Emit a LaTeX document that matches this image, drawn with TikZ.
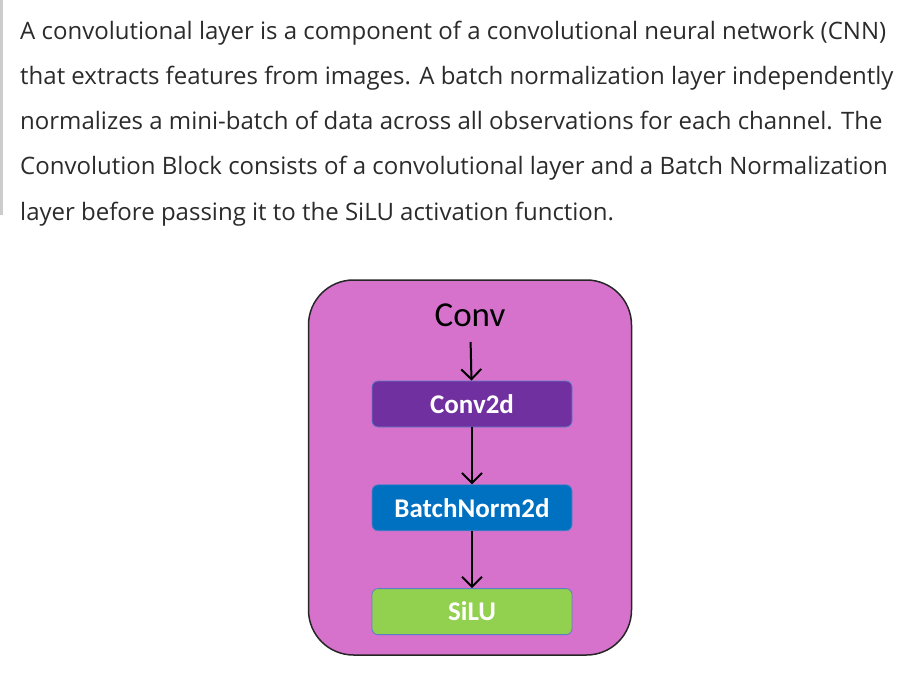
\documentclass[tikz,border=0pt]{standalone}
\usepackage{fontspec}
\setmainfont{Open Sans}
\newfontfamily\boxfont{Carlito}
\usepackage{xcolor}
\usepackage{tikz}
\usetikzlibrary{arrows.meta,positioning}

\definecolor{txtgray}{HTML}{2B2B2B}
\definecolor{blockpink}{HTML}{D672CC}
\definecolor{convpurple}{HTML}{7030A0}
\definecolor{bnblue}{HTML}{0070C0}
\definecolor{silugreen}{HTML}{92D050}
\definecolor{edgeblue}{HTML}{5B7FC7}

\begin{document}
\begin{tikzpicture}[
    x=1pt, y=-1pt,
    node distance=57pt,%boxes are 57pt apart
    para/.style={
        anchor=base west, inner sep=0pt,
        text=txtgray,
        font=\fontsize{24}{28}\selectfont},
    layer/.style={
        % The shape:
        rectangle, rounded corners=6pt,
        minimum width=200pt, minimum height=46pt,
        draw=edgeblue, line width=0.8pt,
        % The fonts
        text=white, font=\boxfont\bfseries\fontsize{27}{30}\selectfont},
    flow/.style={-{Straight Barb[length=10pt,width=20pt,line width=2pt]}, line width=2pt}]
  \useasboundingbox (0,0) rectangle (920,695);
  \fill[black!20] (0,0) rectangle (3,215);
  % paragraph
  \node[para] (line1) at (20,40) {A convolutional layer is a component of a convolutional neural network (CNN)};
  \node[para] (line2) at (20,85) {that extracts features from images. A batch normalization layer independently};
  \node[para] (line3) at (20,130) {normalizes a mini-batch of data across all observations for each channel. The};
  \node[para] (line4) at (20,175) {Convolution Block consists of a convolutional layer and a Batch Normalization};
  \node[para] (line5) at (20,220) {layer before passing it to the SiLU activation function.};
  % the block
  \node[draw=black!85, line width=1.5pt, fill=blockpink, rounded corners=45pt,
        minimum width=323pt, minimum height=375pt] (block) at (470,467.5) {};
  \node[font=\boxfont\fontsize{35}{40}\selectfont, text=black] (conv) at (470,315) {Conv};
  \node (conv2d) [layer, fill=convpurple] at (472,404) {Conv2d};
  \node (bn) [layer, fill=bnblue, below=of conv2d] {BatchNorm2d};
  \node (silu) [layer, fill=silugreen, below=of bn] {SiLU};
  \draw[flow, shorten <=12pt] (conv) -- (conv2d);
  \draw[flow] (conv2d) -- (bn);
  \draw[flow] (bn) -- (silu);
\end{tikzpicture}
\end{document}
